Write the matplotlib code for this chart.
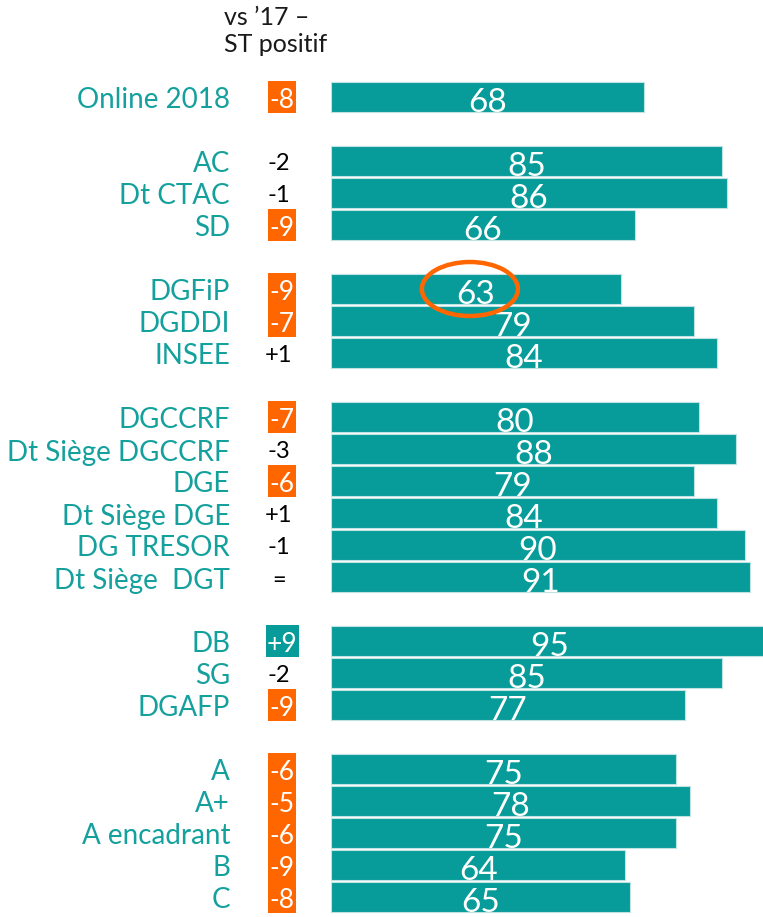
import matplotlib
matplotlib.use("Agg")
import matplotlib.pyplot as plt
from matplotlib.patches import Rectangle, Ellipse

# ---- data ----
labels = ["Online 2018",
          "AC", "Dt CTAC", "SD",
          "DGFiP", "DGDDI", "INSEE",
          "DGCCRF", "Dt Siège DGCCRF", "DGE", "Dt Siège DGE", "DG TRESOR", "Dt Siège  DGT",
          "DB", "SG", "DGAFP",
          "A", "A+", "A encadrant", "B", "C"]
values = [68,
          85, 86, 66,
          63, 79, 84,
          80, 88, 79, 84, 90, 91,
          95, 85, 77,
          75, 78, 75, 64, 65]
changes = ["-8",
           "-2", "-1", "-9",
           "-9", "-7", "+1",
           "-7", "-3", "-6", "+1", "-1", "=",
           "+9", "-2", "-9",
           "-6", "-5", "-6", "-9", "-8"]
# highlight: 'neg' orange box, 'pos' teal box, '' plain text
highlight = ["neg",
             "", "", "neg",
             "neg", "neg", "",
             "neg", "", "neg", "", "", "",
             "pos", "", "neg",
             "neg", "neg", "neg", "neg", "neg"]
group_sizes = [1, 3, 3, 6, 3, 5]
header = "vs \u201917 \u2013\nST positif"
circled = "DGFiP"

TEAL = "#079c99"
LABEL_TEAL = "#14a09d"
ORANGE = "#ff6600"
FONT = ["Lato", "DejaVu Sans"]

# slots: one empty slot between groups
slots = []
s = 0
for g in group_sizes:
    for i in range(g):
        slots.append(s)
        s += 1
    s += 1

W, H = 763, 917
fig = plt.figure(figsize=(W / 100, H / 100), dpi=100)

PITCH = 32
Y0 = 97
X_BAR0 = 331
PX_PER_UNIT = 4.6

# bars axes
axb = fig.add_axes([X_BAR0 / W, 0, (W - X_BAR0) / W, 1])
axb.set_xlim(0, (W - X_BAR0) / PX_PER_UNIT)
axb.set_ylim((H - Y0) / PITCH, -Y0 / PITCH)
axb.axis("off")
axb.barh(slots, values, height=0.93, color=TEAL, edgecolor="#bfe3e2", linewidth=0.8)
for sl, v in zip(slots, values):
    axb.text(v / 2, sl + 0.08, str(v), ha="center", va="center_baseline",
             color="white", fontsize=24, family=FONT)

# overlay axes in pixel coords
ax = fig.add_axes([0, 0, 1, 1], zorder=3)
ax.set_xlim(0, W)
ax.set_ylim(H, 0)
ax.axis("off")

ax.text(224, 6, header, ha="left", va="top", fontsize=18, color="#1a1a1a",
        family=FONT, linespacing=1.2)

for lab, sl, ch, hl in zip(labels, slots, changes, highlight):
    y = Y0 + sl * PITCH
    ax.text(230, y + 1, lab, ha="right", va="center_baseline", fontsize=20,
            color=LABEL_TEAL, family=FONT)
    if hl:
        bw = 33 if hl == "pos" else 28
        ax.add_patch(Rectangle((282 - bw / 2, y - 16), bw, 32,
                               facecolor=ORANGE if hl == "neg" else TEAL, edgecolor="none"))
        ax.text(282, y + 1, ch, ha="center", va="center_baseline", fontsize=19,
                color="white", family=FONT)
    else:
        ax.text(279, y + 1, ch, ha="center", va="center_baseline", fontsize=17,
                color="black", family=FONT)

# circle around highlighted value
idx = labels.index(circled)
v = values[idx]
cx = X_BAR0 + v / 2 * PX_PER_UNIT
cy = Y0 + slots[idx] * PITCH
ax.add_patch(Ellipse((cx - 6, cy), 96, 54, facecolor="none", edgecolor=ORANGE, linewidth=3.2))

fig.savefig("out.png", dpi=100)
